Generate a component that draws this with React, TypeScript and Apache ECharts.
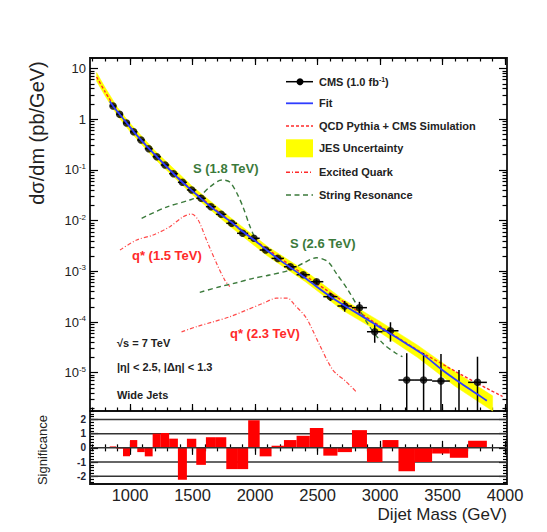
import React, { useEffect, useRef } from 'react';
import * as echarts from 'echarts';

// ---------------- data ----------------
const binEdges = [838, 890, 944, 1000, 1058, 1118, 1181, 1246, 1313, 1383, 1455, 1530, 1607, 1687, 1770, 1856, 1945, 2037, 2132, 2231, 2332, 2438, 2546, 2659, 2775, 2895, 3019, 3147, 3279, 3416, 3558, 3704, 3854];
const binCenters = [864, 917, 972, 1029, 1088, 1150, 1214, 1280, 1348, 1419, 1493, 1569, 1647, 1729, 1813, 1901, 1991, 2085, 2182, 2282, 2385, 2492, 2603, 2717, 2835, 2957, 3083, 3213, 3348, 3487, 3631, 3779];
const xsec: (number | null)[] = [1.82, 1.25, 0.84, 0.566, 0.389, 0.262, 0.182, 0.125, 0.0841, 0.0569, 0.0402, 0.0275, 0.0188, 0.0133, 0.00885, 0.00562, 0.00448, 0.00263, 0.0018, 0.00123, 0.000857, 0.000624, 0.000316, 0.000207, 0.000192, 6.44e-5, 6.73e-5, 7.18e-6, 7.18e-6, 6.86e-6, null, 6.46e-6];
const xsecHigh: (number | null)[] = [null, null, null, null, null, null, null, null, null, null, null, null, null, null, null, null, null, null, null, null, 9.4e-4, 6.9e-4, 3.7e-4, 2.6e-4, 2.5e-4, 9.5e-5, 9.9e-5, 2.43e-5, 2.43e-5, 2.35e-5, 1.13e-5, 2.07e-5];
const xsecLow: (number | null)[] = [null, null, null, null, null, null, null, null, null, null, null, null, null, null, null, null, null, null, null, null, 7.8e-4, 5.6e-4, 2.6e-4, 1.6e-4, 1.48e-4, 3.9e-5, 4.1e-5, 1e-7, 1e-7, 1e-7, 1e-7, 1e-7];
const significance = [0.1, -0.05, -0.6, 0.55, -0.3, -0.6, 1.0, 1.05, 0.65, -2.25, 0.65, -1.2, 0.75, 0.75, -1.5, -1.5, 1.95, -0.6, 0.15, 0.55, 0.85, 1.4, -0.55, -0.3, 1.25, -1.0, 0.55, -1.65, -1.0, -0.4, -0.7, 0.5];

const fitMass = [838, 864, 917, 972, 1029, 1088, 1150, 1214, 1280, 1348, 1419, 1493, 1569, 1647, 1729, 1813, 1901, 1991, 2085, 2182, 2282, 2385, 2492, 2603, 2717, 2835, 2957, 3083, 3213, 3348, 3487, 3631, 3779, 3854];
const fitXsec = [2.25, 1.82, 1.25, 0.85, 0.57, 0.39, 0.265, 0.182, 0.124, 0.084, 0.057, 0.0395, 0.0272, 0.0187, 0.013, 0.0092, 0.0061, 0.0042, 0.00272, 0.00178, 0.00119, 0.00079, 0.0005, 0.000316, 0.00021, 0.00014, 9.1e-5, 5.9e-5, 3.7e-5, 2.25e-5, 1.19e-5, 6.6e-6, 3.76e-6, 2.8e-6];

const qcdMass = [733, 800, 900, 1000, 1200, 1500, 2000, 2500, 3000, 3300, 3600, 3800, 3980];
const qcdXsec = [6.8, 3.5, 1.41, 0.69, 0.197, 0.039, 0.0041, 0.00056, 8.3e-5, 2.8e-5, 1.07e-5, 5.75e-6, 3.4e-6];

const jesMass = [733, 800, 900, 1000, 1200, 1500, 1800, 2100, 2400, 2700, 3000, 3300, 3600, 3900];
const jesLow = [5.6, 2.9, 1.17, 0.57, 0.163, 0.0322, 0.0077, 0.002, 0.00063, 1.7e-4, 6.2e-5, 2.0e-5, 5.4e-6, 1.5e-6];
const jesHigh = [8.3, 4.25, 1.7, 0.83, 0.238, 0.0472, 0.0117, 0.0031, 0.00103, 2.85e-4, 1.03e-4, 3.5e-5, 1.05e-5, 3.5e-6];

const s18Mass = [1093, 1292, 1478, 1558, 1638, 1734, 1798, 1854, 1904, 1958, 2006];
const s18Xsec = [0.0111, 0.0185, 0.0255, 0.0305, 0.046, 0.0632, 0.0577, 0.035, 0.0185, 0.0078, 0.0041];
const q15Mass = [920, 1053, 1185, 1319, 1425, 1492, 1545, 1612, 1692, 1758, 1798];
const q15Xsec = [0.00263, 0.00414, 0.0052, 0.0076, 0.0119, 0.0135, 0.0103, 0.00414, 0.00144, 0.00067, 0.0005];
const s26Mass = [1558, 1718, 1851, 1984, 2117, 2277, 2383, 2490, 2583, 2650, 2743, 2822, 2916, 3022, 3129, 3179];
const s26Xsec = [3.85e-4, 4.97e-4, 5.96e-4, 7.28e-4, 8.45e-4, 1.06e-3, 1.44e-3, 1.85e-3, 1.55e-3, 9.1e-4, 4.3e-4, 2.0e-4, 8.1e-5, 3.8e-5, 2.4e-5, 2.07e-5];
const q23Mass = [1412, 1532, 1665, 1798, 1931, 2064, 2171, 2261, 2317, 2410, 2517, 2623, 2730, 2810];
const q23Xsec = [6.4e-5, 8.1e-5, 1.01e-4, 1.27e-4, 1.72e-4, 2.34e-4, 2.95e-4, 2.95e-4, 2.17e-4, 1.2e-4, 3.5e-5, 1.13e-5, 6.6e-6, 4.2e-6];

const xMajorTicks = [1000, 1500, 2000, 2500, 3000, 3500, 4000];
const yDecades = [1e-5, 1e-4, 1e-3, 1e-2, 1e-1, 1, 10];
const sigTicks = [-2, -1, 0, 1, 2];
const sigGridLevels = [2, 1, -1, -2];

// ---------------- layout / style constants ----------------
const X_MIN = 680;
const X_MAX = 4015;
const Y_MIN = 1.76e-6;
const Y_MAX = 16.1;
const S_MIN = -2.55;
const S_MAX = 2.6;
const FONT = '"Liberation Sans", Arial, Helvetica, sans-serif';
const TXT = '#222';
const RED = '#ff2a2a';
const GREEN = '#3b7a3b';
const BLUE = '#2f3dff';

const xMinorTicks: number[] = [];
for (let m = 700; m <= 4000; m += 100) xMinorTicks.push(m);
const yMinorTicks: number[] = [];
for (let e = -6; e <= 1; e++) {
  for (let k = 2; k <= 9; k++) {
    const v = k * Math.pow(10, e);
    if (v > Y_MIN && v < Y_MAX) yMinorTicks.push(v);
  }
}
const sigMinorTicks: number[] = [];
for (let i = -12; i <= 13; i++) sigMinorTicks.push(Math.round(i * 2) / 10);

const tickStyle = { color: '#000', width: 1.2 };

function xAxis(gridIndex: number, position: string, ticks: number[], len: number, labels = false) {
  return {
    type: 'value', gridIndex, position, min: X_MIN, max: X_MAX,
    axisLine: { show: false }, splitLine: { show: false },
    axisTick: { show: true, inside: true, length: len, customValues: ticks, lineStyle: tickStyle },
    axisLabel: labels
      ? {
          show: true, customValues: xMajorTicks, fontSize: 16.5, lineHeight: 14, color: TXT, margin: 4, fontFamily: FONT,
          formatter: (v: number) => String(Math.round(v)),
        }
      : { show: false },
  };
}

function logAxis(position: string, ticks: number[], len: number, labels = false) {
  return {
    type: 'log', logBase: 10, gridIndex: 0, position, min: Y_MIN, max: Y_MAX,
    axisLine: { show: false }, splitLine: { show: false }, minorTick: { show: false },
    axisTick: { show: true, inside: true, length: len, customValues: ticks, lineStyle: tickStyle },
    axisLabel: labels
      ? {
          show: true, customValues: yDecades, margin: 4,
          formatter: (v: number) => {
            const e = Math.round(Math.log10(v));
            if (e === 1) return '{b|10}';
            if (e === 0) return '{b|1}';
            return '{b|10}{s|' + e + '}';
          },
          rich: {
            b: { fontSize: 13, color: TXT, fontFamily: FONT, lineHeight: 15 },
            s: { fontSize: 8, color: TXT, fontFamily: FONT, verticalAlign: 'top', lineHeight: 10 },
          },
        }
      : { show: false },
  };
}

function sigAxis(position: string, ticks: number[], len: number, labels = false) {
  return {
    type: 'value', gridIndex: 1, position, min: S_MIN, max: S_MAX,
    axisLine: { show: false }, splitLine: { show: false },
    axisTick: { show: true, inside: true, length: len, customValues: ticks, lineStyle: tickStyle },
    axisLabel: labels
      ? { show: true, customValues: sigTicks, fontSize: 10, fontWeight: 'bold', color: '#223', margin: 4, fontFamily: FONT }
      : { show: false },
  };
}

function pairs(xs: number[], ys: number[]) {
  return xs.map((x, i) => [x, ys[i]]);
}

function curve(name: string, xs: number[], ys: number[], color: string, dash: number[], width: number, z: number, smooth = 0.3) {
  return {
    name, type: 'line', xAxisIndex: 0, yAxisIndex: 0, data: pairs(xs, ys), showSymbol: false, symbol: 'none',
    smooth, z, silent: true,
    lineStyle: { color, width, type: dash },
  };
}

function buildOption(): any {
  const legendY = [81.7, 103.3, 126, 148.3, 172.3, 195];
  const lx1 = 286, lx2 = 313, tx = 319;
  const legendText = (y: number, text: string) => ({
    type: 'text', x: tx, y,
    style: {
      text, fill: TXT, font: 'bold 11px ' + FONT, textVerticalAlign: 'middle',
      rich: {
        a: { fontSize: 11, fontWeight: 'bold', fontFamily: FONT, fill: TXT, color: TXT },
        s: { fontSize: 7, fontWeight: 'bold', fontFamily: FONT, fill: TXT, color: TXT, verticalAlign: 'top' },
      },
    },
  });
  const legendLine = (y: number, color: string, dash: number[] | null, w: number) => ({
    type: 'line', shape: { x1: lx1, y1: y, x2: lx2, y2: y },
    style: { stroke: color, lineWidth: w, lineDash: dash || undefined },
  });
  const note = (x: number, y: number, text: string, color: string, size = 13) => ({
    type: 'text', x, y,
    style: { text, fill: color, font: 'bold ' + size + 'px ' + FONT, textVerticalAlign: 'middle' },
  });

  const graphic = [
    legendLine(legendY[0], '#000', null, 1.5),
    { type: 'circle', shape: { cx: 300, cy: legendY[0], r: 3.5 }, style: { fill: '#000' } },
    legendText(legendY[0], '{a|CMS (1.0 fb}{s|-1}{a|)}'),
    legendLine(legendY[1], BLUE, null, 1.8),
    legendText(legendY[1], 'Fit'),
    legendLine(legendY[2], RED, [3, 2], 1.4),
    legendText(legendY[2], 'QCD Pythia + CMS Simulation'),
    { type: 'rect', shape: { x: lx1, y: legendY[3] - 9, width: lx2 - lx1, height: 18 }, style: { fill: '#ffff00' } },
    legendText(legendY[3], 'JES Uncertainty'),
    legendLine(legendY[4], RED, [4, 2, 1, 2], 1.4),
    legendText(legendY[4], 'Excited Quark'),
    legendLine(legendY[5], GREEN, [5, 3.5], 1.5),
    legendText(legendY[5], 'String Resonance'),
    note(193, 168, 'S (1.8 TeV)', GREEN),
    note(290, 243, 'S (2.6 TeV)', GREEN),
    note(132, 255, 'q* (1.5 TeV)', RED),
    note(230, 333, 'q* (2.3 TeV)', RED),
    note(117, 343, '√s = 7 TeV', TXT, 11),
    note(117, 367, '|η| < 2.5, |Δη| < 1.3', TXT, 11),
    note(117, 395, 'Wide Jets', TXT, 11),
    {
      type: 'text', x: 37, y: 133, rotation: Math.PI / 2,
      style: { text: 'dσ/dm (pb/GeV)', fill: TXT, font: '20px ' + FONT, textAlign: 'center', textVerticalAlign: 'middle' },
    },
    {
      type: 'text', x: 42, y: 450, rotation: Math.PI / 2,
      style: { text: 'Significance', fill: TXT, font: '13px ' + FONT, textAlign: 'center', textVerticalAlign: 'middle' },
    },
    {
      type: 'text', x: 507, y: 514,
      style: { text: 'Dijet Mass (GeV)', fill: TXT, font: '17px ' + FONT, textAlign: 'right', textVerticalAlign: 'middle' },
    },
  ];

  const clampTo = (cs: any) => (y: number) => Math.min(Math.max(y, cs.y), cs.y + cs.height);

  const series: any[] = [
    // JES uncertainty band
    {
      name: 'JES Uncertainty', type: 'custom', xAxisIndex: 0, yAxisIndex: 0, z: 1, silent: true,
      data: [[jesMass[0], jesHigh[0]]],
      renderItem: (params: any, api: any) => {
        const clampY = clampTo(params.coordSys);
        const up = jesMass.map((m, i) => { const p = api.coord([m, jesHigh[i]]); return [p[0], clampY(p[1])]; });
        const dn = jesMass.map((m, i) => { const p = api.coord([m, jesLow[i]]); return [p[0], clampY(p[1])]; }).reverse();
        return { type: 'polygon', shape: { points: up.concat(dn) }, style: { fill: '#ffff00', stroke: '#ffff00', lineWidth: 0.5 } };
      },
    },
    curve('QCD Pythia + CMS Simulation', qcdMass, qcdXsec, RED, [3, 2], 1.4, 2, 0.2),
    curve('S (1.8 TeV)', s18Mass, s18Xsec, GREEN, [5, 3.5], 1.4, 2),
    curve('S (2.6 TeV)', s26Mass, s26Xsec, GREEN, [5, 3.5], 1.4, 2),
    curve('q* (1.5 TeV)', q15Mass, q15Xsec, '#ff4a4a', [4, 2, 1, 2], 1.2, 2),
    curve('q* (2.3 TeV)', q23Mass, q23Xsec, '#ff4a4a', [4, 2, 1, 2], 1.2, 2),
    // data error bars
    {
      name: 'CMS errors', type: 'custom', xAxisIndex: 0, yAxisIndex: 0, z: 3, silent: true,
      data: binCenters.map((c, i) => [c, xsec[i] != null ? xsec[i] : xsecHigh[i]]),
      renderItem: (params: any, api: any) => {
        const i = params.dataIndex;
        const clampY = clampTo(params.coordSys);
        const children: any[] = [];
        const v = xsec[i];
        if (v != null) {
          const a = api.coord([binEdges[i], v]);
          const b = api.coord([binEdges[i + 1], v]);
          children.push({ type: 'line', shape: { x1: a[0], y1: a[1], x2: b[0], y2: b[1] }, style: { stroke: '#000', lineWidth: 1.5 } });
        }
        const hi = xsecHigh[i];
        const lo = xsecLow[i];
        if (hi != null && lo != null) {
          const p1 = api.coord([binCenters[i], hi]);
          const p2 = api.coord([binCenters[i], lo]);
          children.push({ type: 'line', shape: { x1: p1[0], y1: clampY(p1[1]), x2: p2[0], y2: clampY(p2[1]) }, style: { stroke: '#000', lineWidth: 1.5 } });
        }
        return { type: 'group', children };
      },
    },
    {
      name: 'CMS (1.0 fb-1)', type: 'scatter', xAxisIndex: 0, yAxisIndex: 0, z: 4, silent: true,
      data: binCenters.map((c, i) => [c, xsec[i]]).filter((d) => d[1] != null),
      symbol: 'circle', symbolSize: 7.5, itemStyle: { color: '#000' },
    },
    {
      name: 'Fit', type: 'line', xAxisIndex: 0, yAxisIndex: 0, z: 5, silent: true,
      data: pairs(fitMass, fitXsec), showSymbol: false, symbol: 'none', smooth: 0.2,
      lineStyle: { color: BLUE, width: 1.8 },
    },
    // significance panel
    {
      name: 'grid levels', type: 'custom', xAxisIndex: 4, yAxisIndex: 4, z: 1, silent: true,
      data: sigGridLevels.map((v) => [X_MIN, v]),
      renderItem: (params: any, api: any) => {
        const cs = params.coordSys;
        const y = api.coord([X_MIN, sigGridLevels[params.dataIndex]])[1];
        return { type: 'line', shape: { x1: cs.x, y1: y, x2: cs.x + cs.width, y2: y }, style: { stroke: '#333', lineWidth: 1.5 } };
      },
    },
    {
      name: 'Significance', type: 'custom', xAxisIndex: 4, yAxisIndex: 4, z: 2, silent: true,
      data: binCenters.map((c, i) => [c, significance[i]]),
      renderItem: (params: any, api: any) => {
        const i = params.dataIndex;
        const a = api.coord([binEdges[i], significance[i]]);
        const b = api.coord([binEdges[i + 1], 0]);
        return {
          type: 'rect',
          shape: { x: a[0], y: Math.min(a[1], b[1]), width: b[0] - a[0], height: Math.abs(b[1] - a[1]) },
          style: { fill: '#ff0000' },
        };
      },
    },
    {
      name: 'zero', type: 'custom', xAxisIndex: 4, yAxisIndex: 4, z: 3, silent: true,
      data: [[X_MIN, 0]],
      renderItem: (params: any, api: any) => {
        const cs = params.coordSys;
        const y = api.coord([X_MIN, 0])[1];
        return { type: 'line', shape: { x1: cs.x, y1: y, x2: cs.x + cs.width, y2: y }, style: { stroke: '#333', lineWidth: 1.5 } };
      },
    },
  ];

  return {
    animation: false,
    backgroundColor: '#fff',
    textStyle: { fontFamily: FONT },
    grid: [
      { left: 90, top: 58, width: 417, height: 353, show: true, borderColor: '#111', borderWidth: 1.8, backgroundColor: 'transparent' },
      { left: 90, top: 411, width: 417, height: 73, show: true, borderColor: '#111', borderWidth: 1.8, backgroundColor: 'transparent' },
    ],
    xAxis: [
      xAxis(0, 'bottom', xMajorTicks, 7),
      xAxis(0, 'bottom', xMinorTicks, 3.5),
      xAxis(0, 'top', xMajorTicks, 7),
      xAxis(0, 'top', xMinorTicks, 3.5),
      xAxis(1, 'bottom', xMajorTicks, 7, true),
      xAxis(1, 'bottom', xMinorTicks, 3.5),
      xAxis(1, 'top', xMajorTicks, 7),
      xAxis(1, 'top', xMinorTicks, 3.5),
    ],
    yAxis: [
      logAxis('left', yDecades, 8, true),
      logAxis('left', yMinorTicks, 4.5),
      logAxis('right', yDecades, 8),
      logAxis('right', yMinorTicks, 4.5),
      sigAxis('left', sigTicks, 8, true),
      sigAxis('left', sigMinorTicks, 4),
      sigAxis('right', sigTicks, 8),
      sigAxis('right', sigMinorTicks, 4),
    ],
    series,
    graphic,
  };
}

export default function App() {
  const ref = useRef<HTMLDivElement>(null);
  useEffect(() => {
    document.body.style.margin = '0';
    const chart = echarts.init(ref.current as HTMLDivElement, null, { renderer: 'svg' });
    chart.setOption(buildOption());
    return () => chart.dispose();
  }, []);
  return <div ref={ref} style={{ width: 547, height: 532, background: '#fff', position: 'absolute', left: 0, top: 0 }} />;
}
